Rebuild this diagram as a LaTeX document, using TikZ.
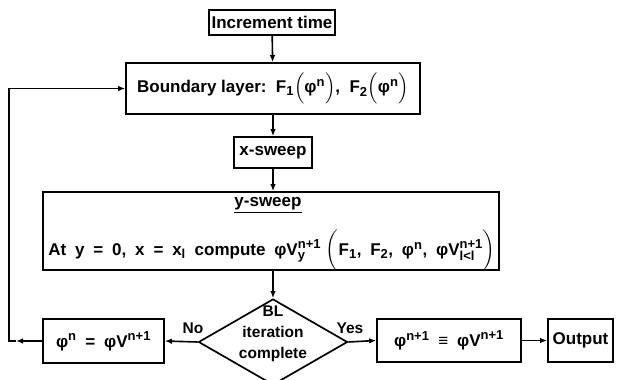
\documentclass[tikz,border=0pt]{standalone}
\usepackage{fontspec}
\usepackage{amsmath}
\setmainfont{Liberation Sans}
\DeclareMathSizes{17}{17}{13}{10}
\usetikzlibrary{shapes.geometric,arrows.meta}
\newcommand\tx[1]{\text{#1}}
\newcommand\widesp{\spaceskip=0.52em plus 0.1em\relax}
\begin{document}
\begin{tikzpicture}[x=1pt,y=-1pt,
  every node/.style={font=\bfseries\fontsize{17}{20}\selectfont},
  box/.style={draw, line width=1.7pt, inner sep=0pt, align=center},
  dia/.style={draw, diamond, line width=1.7pt, inner sep=0pt},
  arr/.style={line width=1.6pt, -{Latex[length=7pt,width=5.5pt]}},
  wide/.style={font=\bfseries\fontsize{17}{20}\selectfont\widesp},
  lbl/.style={inner sep=0pt, font=\bfseries\fontsize{15.5}{16}\selectfont}]
\useasboundingbox (0,0) rectangle (627,380);
\clip (0,0) rectangle (627,380);
\node[box, minimum width=126pt, minimum height=25pt] (inc) at (272,22.5) {Increment time};
\node[box, minimum width=294pt, minimum height=51pt] (bl) at (273,88.5)
  {Boundary layer:\ \ $\tx{F}_{\tx{1}}\Bigl(\tx{φ}^{\tx{n}}\Bigr)\tx{,\ \ F}_{\tx{2}}\Bigl(\tx{φ}^{\tx{n}}\Bigr)$};
\node[box, minimum width=78pt, minimum height=31pt] (xs) at (273,152.5) {x-sweep};
\node[box, minimum width=456pt, minimum height=78pt] (ys) at (271,231) {};
\node[inner sep=0pt] (yst) at (268,205) {\underline{y-sweep}};
\node[inner sep=0pt, wide] (ysf) at (272,251)
  {At y = 0, x = x$_{\tx{l}}$ compute \mbox{$\tx{φV}^{\tx{n+1}}_{\tx{y}}\;\biggl(\tx{F}_{\tx{1}}\tx{, F}_{\tx{2}}\tx{, φ}^{\tx{n}}\tx{, φV}^{\tx{n+1}}_{\tx{l<l}}\biggr)$}};
\node[dia, minimum width=149pt, minimum height=86pt] (d) at (273,342) {};
\node[inner sep=0pt, align=center, font=\bfseries\fontsize{15.5}{21}\selectfont] (dt) at (273,334) {BL\\iteration\\complete};
\node[box, wide, minimum width=121pt, minimum height=44pt] (phin) at (103.5,341) {$\tx{φ}^{\tx{n}}$ = $\tx{φV}^{\tx{n+1}}$};
\node[box, wide, minimum width=144pt, minimum height=43pt] (phin1) at (449,340.5) {$\tx{φ}^{\tx{n+1}}$ ≡ $\tx{φV}^{\tx{n+1}}$};
\node[box, minimum width=65pt, minimum height=43pt] (out) at (580.5,340.5) {Output};
\node[lbl] (no) at (193,328) {No};
\node[lbl] (yes) at (350,328) {Yes};
\coordinate (la) at (16,341);
\coordinate (lb) at (9,341);
\draw[arr] (inc) -- (bl);
\draw[arr] (bl) -- (xs);
\draw[arr] (xs) -- (xs |- ys.north);
\draw[arr] (d.north |- ys.south) -- (d.north);
\draw[arr] (d.west) -- (phin.east);
\draw[arr] (d.east) -- (phin1.west);
\draw[arr] (phin1) -- (out);
\draw[arr] (phin.west) -- (la);
\draw[arr] (la) -- (lb) |- (bl.west);
\end{tikzpicture}
\end{document}
